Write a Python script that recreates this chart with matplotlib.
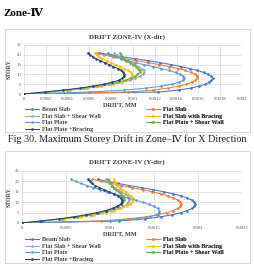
import matplotlib
matplotlib.use("Agg")
import matplotlib.pyplot as plt
from matplotlib.patches import Rectangle

W, H = 254, 264

stories = list(range(0, 22))

series_names = ["Beam Slab", "Flat Slab", "Flat Slab + Shear Wall", "Flat Slab with Bracing",
                "Flat Plate", "Flat Plate + Shear Wall", "Flat Plate +Bracing"]
series_colors = ["#4472C4", "#ED7D31", "#A5A5A5", "#FFC000", "#5B9BD5", "#70AD47", "#264478"]

# X direction drift per storey
beam_slab_x = [0, 0.00123, 0.00142, 0.00153, 0.00161, 0.00166, 0.00170, 0.00172, 0.00173, 0.00172, 0.00169,
               0.00165, 0.00159, 0.00152, 0.00144, 0.00135, 0.00125, 0.00114, 0.00102, 0.00090, 0.00079, 0.00069]
flat_slab_x = [0, 0.00095, 0.00118, 0.00132, 0.00142, 0.00149, 0.00154, 0.00157, 0.00159, 0.00159, 0.00157,
               0.00153, 0.00148, 0.00141, 0.00133, 0.00124, 0.00114, 0.00103, 0.00092, 0.00082, 0.00073, 0.00066]
flat_slab_sw_x = [0, 0.00022, 0.00042, 0.00058, 0.00071, 0.00082, 0.00090, 0.00097, 0.00102, 0.00106, 0.00109,
                  0.00110, 0.00110, 0.00108, 0.00105, 0.00102, 0.00098, 0.00094, 0.00091, 0.00088, 0.00085, 0.00083]
flat_slab_br_x = [0, 0.00021, 0.00040, 0.00056, 0.00069, 0.00080, 0.00088, 0.00094, 0.00097, 0.00099, 0.00099,
                  0.00098, 0.00095, 0.00092, 0.00088, 0.00084, 0.00080, 0.00076, 0.00072, 0.00069, 0.00067, 0.00065]
flat_plate_x = [0, 0.00060, 0.00092, 0.00112, 0.00126, 0.00136, 0.00142, 0.00146, 0.00147, 0.00146, 0.00143,
                0.00139, 0.00133, 0.00126, 0.00118, 0.00110, 0.00102, 0.00095, 0.00089, 0.00084, 0.00080, 0.00077]
flat_plate_sw_x = [0, 0.00020, 0.00039, 0.00054, 0.00067, 0.00078, 0.00086, 0.00093, 0.00098, 0.00102, 0.00104,
                   0.00106, 0.00106, 0.00105, 0.00103, 0.00100, 0.00097, 0.00094, 0.00092, 0.00090, 0.00089, 0.00088]
flat_plate_br_x = [0, 0.00019, 0.00036, 0.00051, 0.00063, 0.00073, 0.00081, 0.00087, 0.00090, 0.00092, 0.00092,
                   0.00091, 0.00089, 0.00086, 0.00082, 0.00078, 0.00074, 0.00070, 0.00066, 0.00063, 0.00061, 0.00059]

# Y direction drift per storey
beam_slab_y = [0, 0.00110, 0.00140, 0.00158, 0.00171, 0.00181, 0.00188, 0.00193, 0.00196, 0.00197, 0.00196,
               0.00193, 0.00188, 0.00181, 0.00172, 0.00161, 0.00149, 0.00136, 0.00122, 0.00109, 0.00097, 0.00086]
flat_slab_y = [0, 0.00090, 0.00122, 0.00141, 0.00155, 0.00165, 0.00172, 0.00177, 0.00180, 0.00181, 0.00180,
               0.00177, 0.00172, 0.00166, 0.00158, 0.00148, 0.00137, 0.00125, 0.00113, 0.00101, 0.00090, 0.00080]
flat_slab_sw_y = [0, 0.00024, 0.00046, 0.00064, 0.00079, 0.00091, 0.00101, 0.00109, 0.00115, 0.00119, 0.00121,
                  0.00122, 0.00122, 0.00120, 0.00117, 0.00113, 0.00109, 0.00105, 0.00102, 0.00099, 0.00097, 0.00095]
flat_slab_br_y = [0, 0.00025, 0.00048, 0.00067, 0.00082, 0.00095, 0.00105, 0.00113, 0.00119, 0.00123, 0.00125,
                  0.00126, 0.00126, 0.00124, 0.00121, 0.00118, 0.00114, 0.00111, 0.00108, 0.00106, 0.00105, 0.00104]
flat_plate_y = [0, 0.00100, 0.00130, 0.00145, 0.00153, 0.00156, 0.00156, 0.00154, 0.00150, 0.00144, 0.00137,
                0.00129, 0.00121, 0.00113, 0.00105, 0.00097, 0.00089, 0.00081, 0.00074, 0.00067, 0.00061, 0.00056]
flat_plate_sw_y = [0, 0.00024, 0.00046, 0.00063, 0.00077, 0.00088, 0.00097, 0.00104, 0.00109, 0.00112, 0.00114,
                   0.00116, 0.00116, 0.00115, 0.00113, 0.00110, 0.00107, 0.00104, 0.00102, 0.00100, 0.00099, 0.00098]
flat_plate_br_y = [0, 0.00022, 0.00042, 0.00059, 0.00073, 0.00085, 0.00095, 0.00103, 0.00108, 0.00112, 0.00114,
                   0.00114, 0.00112, 0.00109, 0.00104, 0.00099, 0.00093, 0.00088, 0.00083, 0.00079, 0.00077, 0.00075]

x_ticks_1 = [0, 0.0002, 0.0004, 0.0006, 0.0008, 0.001, 0.0012, 0.0014, 0.0016, 0.0018, 0.002]
x_labels_1 = ["0", "0.0002", "0.0004", "0.0006", "0.0008", "0.001", "0.0012", "0.0014", "0.0016", "0.0018", "0.002"]
x_ticks_2 = [0, 0.0005, 0.001, 0.0015, 0.002, 0.0025]
x_labels_2 = ["0", "0.0005", "0.001", "0.0015", "0.002", "0.0025"]
y_ticks = [0, 5, 10, 15, 20, 25]

SERIF = ["Liberation Serif", "DejaVu Serif", "DejaVu Sans"]


def fx(px):
    return px / W


def fy(py):
    return 1 - py / H


def draw_chart(fig, data, title, x_ticks, x_labels, box, axes_px, title_y, label_y, legend_y):
    # outer chart frame
    x0, y0, x1, y1 = box
    fig.patches.append(Rectangle((fx(x0), fy(y1)), fx(x1 - x0), (y1 - y0) / H, transform=fig.transFigure,
                                 fill=False, edgecolor="#D0D0D0", linewidth=0.6))

    left, top, right, bottom = axes_px
    ax = fig.add_axes([fx(left), fy(bottom), fx(right - left), (bottom - top) / H])
    lines = []
    for values, name, color in zip(data, series_names, series_colors):
        ln, = ax.plot(values, stories, color=color, linewidth=0.75, marker="o", markersize=1.9,
                      markeredgewidth=0, label=name)
        lines.append(ln)

    ax.set_xlim(x_ticks[0], x_ticks[-1])
    ax.set_ylim(0, 25)
    ax.set_xticks(x_ticks)
    ax.set_xticklabels(x_labels, family=SERIF)
    ax.set_yticks(y_ticks)
    ax.set_yticklabels([str(v) for v in y_ticks], family=SERIF)
    ax.tick_params(labelsize=3.4, colors="#595959", length=0, pad=2)
    ax.grid(True, color="#D9D9D9", linewidth=0.5)
    ax.set_axisbelow(True)
    for s in ax.spines.values():
        s.set_visible(False)

    fig.text(fx(127), fy(title_y), title, ha="center", va="center", fontsize=5.0, fontweight="bold",
             color="#404040", family=SERIF)
    fig.text(fx(120), fy(label_y), "DRIFT, MM", ha="center", va="center", fontsize=4.5, fontweight="bold",
             color="#404040", family=SERIF)
    fig.text(fx(9), fy((top + bottom) / 2), "STORY", ha="center", va="center", rotation=90, fontsize=4.2,
             fontweight="bold", color="#404040", family=SERIF)

    # legend laid out row-wise in two columns
    col1 = [lines[i] for i in (0, 2, 4, 6)]
    col2 = [lines[i] for i in (1, 3, 5)]
    for handles, xpos in ((col1, 25), (col2, 146)):
        leg = ax.legend(handles=handles, loc="upper left", bbox_to_anchor=(fx(xpos), fy(legend_y)),
                        bbox_transform=fig.transFigure, frameon=False, borderpad=0, borderaxespad=0,
                        handlelength=2.3, handletextpad=0.5, labelspacing=0.2,
                        prop={"family": SERIF, "size": 4.4, "weight": "bold"}, labelcolor="#404040")
        ax.add_artist(leg)
    return ax


fig = plt.figure(figsize=(W / 100, H / 100), dpi=100)
fig.patch.set_facecolor("white")

fig.text(fx(3), fy(13), "Zone-Ⅳ", ha="left", va="center", fontsize=8, fontweight="bold", family=SERIF)

data_x = [beam_slab_x, flat_slab_x, flat_slab_sw_x, flat_slab_br_x, flat_plate_x, flat_plate_sw_x, flat_plate_br_x]
data_y = [beam_slab_y, flat_slab_y, flat_slab_sw_y, flat_slab_br_y, flat_plate_y, flat_plate_sw_y, flat_plate_br_y]

draw_chart(fig, data_x, "DRIFT ZONE-IV (X-dir)", x_ticks_1, x_labels_1,
           box=(5, 29, 250, 132), axes_px=(24, 45, 242, 94), title_y=37, label_y=105, legend_y=107)

fig.text(fx(127), fy(139), "Fig 30. Maximum Storey Drift in Zone–Ⅳ for X Direction", ha="center", va="center",
         fontsize=7.3, family=SERIF, color="#222222")

draw_chart(fig, data_y, "DRIFT ZONE-IV (Y-dir)", x_ticks_2, x_labels_2,
           box=(5, 151, 250, 263), axes_px=(22, 171, 242, 223), title_y=162, label_y=234, legend_y=237)

fig.savefig("out.png", dpi=100)
